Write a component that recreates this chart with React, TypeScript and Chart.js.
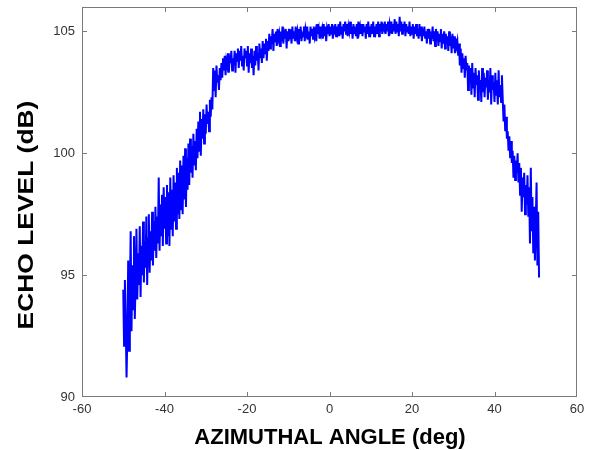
import { useEffect, useRef } from "react";
import { Chart, registerables } from "chart.js";

Chart.register(...registerables);

// Sampling grid of the measurement (deg)
const ANGLE_START = -50;
const ANGLE_STEP = 0.2;

// Echo level (dB), one value per sample
const echoLevel = [
  94.4, 92.1, 94.8, 93.0, 90.8, 92.6, 95.6, 91.9, 94.2, 96.8,
  92.7, 95.4, 93.6, 96.6, 93.2, 94.8, 96.9, 94.0, 95.9, 94.6,
  97.0, 94.1, 96.2, 95.0, 97.2, 94.7, 96.4, 95.3, 97.4, 94.6,
  96.5, 97.5, 95.1, 96.8, 95.6, 97.6, 95.4, 97.2, 96.0, 97.8,
  95.7, 97.4, 96.3, 99.0, 96.0, 97.9, 96.6, 98.3, 96.2, 98.6,
  96.9, 98.2, 96.3, 98.7, 96.6, 98.4, 96.2, 99.0, 96.9, 98.5,
  96.6, 99.1, 97.2, 98.8, 96.9, 99.4, 97.5, 99.2, 97.3, 99.7,
  97.7, 99.5, 97.5, 99.9, 98.1, 100.2, 97.8, 99.8, 98.5, 100.4,
  98.7, 100.6, 99.2, 100.3, 99.0, 100.8, 99.5, 100.5, 99.3, 101.0,
  99.8, 101.3, 100.1, 101.7, 99.9, 101.4, 100.6, 101.8, 100.4, 101.6,
  100.8, 102.0, 101.2, 101.7, 100.9, 102.2, 101.5, 102.3, 101.8, 103.5,
  102.6, 103.4, 102.3, 103.6, 102.9, 103.2, 102.6, 103.5, 103.0, 103.7,
  103.1, 103.9, 103.4, 104.0, 103.2, 103.8, 103.6, 104.1, 103.3, 104.0,
  103.7, 104.2, 103.4, 103.9, 103.6, 104.2, 103.3, 104.1, 103.8, 104.3,
  103.5, 104.2, 103.8, 104.4, 103.6, 104.0, 103.4, 104.3, 103.9, 104.2,
  103.6, 104.4, 103.3, 104.1, 103.7, 104.3, 103.5, 104.0, 103.2, 104.2,
  103.6, 104.4, 103.8, 104.1, 103.4, 104.5, 103.9, 104.3, 103.7, 104.6,
  103.9, 104.5, 104.1, 104.7, 103.8, 104.6, 104.2, 104.9, 104.3, 104.8,
  104.5, 105.1, 104.2, 104.9, 104.6, 105.0, 104.4, 105.1, 104.7, 104.9,
  104.4, 105.0, 104.6, 105.2, 104.5, 104.9, 104.7, 105.1, 104.3, 105.0,
  104.6, 105.1, 104.8, 104.9, 104.5, 105.2, 104.7, 105.0, 104.6, 105.2,
  104.8, 105.0, 104.5, 105.1, 104.7, 105.2, 104.6, 104.9, 104.8, 105.2,
  104.6, 105.1, 104.9, 105.2, 104.7, 105.0, 104.5, 105.2, 104.8, 105.1,
  104.7, 105.2, 104.8, 105.0, 104.6, 105.3, 104.9, 105.1, 104.7, 105.2,
  104.9, 105.1, 104.7, 105.3, 104.8, 105.2, 104.6, 105.1, 104.9, 105.3,
  104.8, 105.2, 104.9, 105.3, 104.7, 105.1, 105.0, 105.3, 104.8, 105.2,
  105.0, 105.3, 104.8, 105.4, 104.9, 105.2, 104.7, 105.3, 105.0, 105.4,
  104.9, 105.3, 104.8, 105.2, 105.0, 105.4, 104.9, 105.2, 104.7, 105.3,
  104.9, 105.2, 104.8, 105.3, 104.7, 105.4, 105.0, 105.2, 104.9, 105.3,
  104.8, 105.3, 105.0, 105.2, 104.7, 105.3, 104.9, 105.4, 104.8, 105.2,
  105.0, 105.3, 104.9, 105.4, 104.8, 105.2, 105.0, 105.3, 104.9, 105.4,
  104.8, 105.3, 105.0, 105.4, 104.9, 105.2, 105.1, 105.4, 104.9, 105.3,
  105.0, 105.4, 104.8, 105.3, 105.1, 105.4, 104.9, 105.3, 105.0, 105.5,
  104.9, 105.4, 105.0, 105.3, 104.8, 105.6, 105.0, 105.4, 104.9, 105.3,
  105.0, 105.4, 104.8, 105.3, 105.0, 105.2, 104.9, 105.4, 104.8, 105.2,
  104.9, 105.3, 104.7, 105.2, 104.9, 105.3, 104.8, 105.1, 104.7, 105.3,
  104.8, 105.2, 104.6, 105.1, 104.8, 105.2, 104.7, 105.0, 104.5, 105.1,
  104.7, 105.1, 104.5, 105.0, 104.7, 105.2, 104.6, 105.0, 104.4, 105.1,
  104.6, 105.0, 104.4, 104.9, 104.6, 105.1, 104.3, 104.9, 104.5, 105.0,
  104.3, 104.9, 104.5, 104.8, 104.2, 105.0, 104.4, 104.8, 104.1, 104.9,
  104.3, 104.8, 104.1, 104.7, 104.4, 104.6, 104.0, 104.5, 103.6, 104.3,
  103.3, 104.1, 103.5, 103.9, 103.1, 104.0, 103.4, 103.7, 102.6, 103.6,
  102.9, 103.5, 102.4, 103.7, 102.7, 103.3, 102.3, 103.5, 102.8, 103.2,
  102.2, 103.4, 102.6, 103.0, 102.1, 103.5, 102.5, 103.3, 102.3, 103.1,
  102.7, 103.4, 102.2, 103.0, 102.5, 103.5, 102.0, 103.2, 102.6, 102.9,
  102.1, 103.3, 102.4, 103.0, 102.0, 103.4, 102.3, 102.8, 102.1, 103.2,
  102.2, 101.3, 102.0, 100.9, 101.5, 100.6, 100.9, 100.1, 100.7, 99.8,
  100.5, 99.6, 100.1, 99.0, 99.9, 98.9, 99.7, 99.2, 100.0, 98.8,
  99.6, 98.3, 99.4, 97.6, 99.0, 98.2, 99.2, 97.5, 98.7, 97.9,
  99.1, 97.4, 98.6, 96.3, 99.4, 96.8, 98.2, 95.9, 97.8, 95.6,
  97.2, 98.8, 95.4, 97.6, 94.9,
];

const xTicks = [-60, -40, -20, 0, 20, 40, 60];
const yTicks = [90, 95, 100, 105];
const X_TITLE = "AZIMUTHAL ANGLE (deg)";
const Y_TITLE = "ECHO LEVEL (dB)";

const FONT = "'Liberation Sans', Arial, Helvetica, sans-serif";

const framePlugin = {
  id: "frame",
  afterDraw(chart: any) {
    const { ctx, chartArea: a, scales } = chart;
    const xs = scales.x;
    const ys = scales.y;
    ctx.save();
    ctx.strokeStyle = "#7a7a7a";
    ctx.lineWidth = 1;
    ctx.strokeRect(a.left + 0.5, a.top + 0.5, a.right - a.left - 1, a.bottom - a.top - 1);
    const tl = 5;
    ctx.beginPath();
    xTicks.forEach((v) => {
      if (v === xs.min || v === xs.max) return;
      const px = Math.round(xs.getPixelForValue(v)) + 0.5;
      ctx.moveTo(px, a.bottom);
      ctx.lineTo(px, a.bottom - tl);
      ctx.moveTo(px, a.top);
      ctx.lineTo(px, a.top + tl);
    });
    yTicks.forEach((v) => {
      if (v === ys.min || v === ys.max) return;
      const py = Math.round(ys.getPixelForValue(v)) + 0.5;
      ctx.moveTo(a.left, py);
      ctx.lineTo(a.left + tl, py);
      ctx.moveTo(a.right, py);
      ctx.lineTo(a.right - tl, py);
    });
    ctx.stroke();

    ctx.fillStyle = "#000";
    ctx.font = `bold 22px ${FONT}`;
    ctx.textAlign = "center";
    ctx.textBaseline = "middle";
    ctx.fillText(X_TITLE, 330, 438);
    ctx.translate(27, 215);
    ctx.rotate(-Math.PI / 2);
    ctx.scale(1.2, 1);
    ctx.fillText(Y_TITLE, 0, 0);
    ctx.restore();
  },
};

export default function App() {
  const ref = useRef<HTMLCanvasElement | null>(null);

  useEffect(() => {
    document.body.style.margin = "0";
    const canvas = ref.current;
    if (!canvas) return;
    const points = echoLevel.map((y, i) => ({ x: ANGLE_START + i * ANGLE_STEP, y }));
    const chart = new Chart(canvas, {
      type: "line",
      data: {
        datasets: [
          {
            data: points,
            borderColor: "#0000ff",
            borderWidth: 2,
            pointRadius: 0,
            tension: 0,
            fill: false,
          },
        ],
      },
      options: {
        animation: false,
        responsive: false,
        maintainAspectRatio: false,
        parsing: false as any,
        layout: { padding: { top: 7, right: 15, left: 0, bottom: 0 } },
        plugins: { legend: { display: false }, tooltip: { enabled: false }, title: { display: false } },
        scales: {
          x: {
            type: "linear",
            min: -60,
            max: 60,
            afterBuildTicks: (s: any) => {
              s.ticks = xTicks.map((v) => ({ value: v }));
            },
            afterFit: (s: any) => {
              s.height = 53;
              s.paddingLeft = 0;
              s.paddingRight = 0;
            },
            grid: { display: false, drawTicks: false },
            border: { display: false },
            ticks: {
              autoSkip: false,
              maxRotation: 0,
              padding: 5,
              color: "#333",
              font: { family: FONT, size: 13 },
            },
          },
          y: {
            type: "linear",
            min: 90,
            max: 106,
            afterBuildTicks: (s: any) => {
              s.ticks = yTicks.map((v) => ({ value: v }));
            },
            afterFit: (s: any) => {
              s.width = 82;
              s.paddingTop = 0;
              s.paddingBottom = 0;
            },
            grid: { display: false, drawTicks: false },
            border: { display: false },
            ticks: {
              autoSkip: false,
              padding: 7,
              color: "#333",
              font: { family: FONT, size: 13 },
            },
          },
        },
      },
      plugins: [framePlugin],
    });
    return () => chart.destroy();
  }, []);

  return (
    <div style={{ width: 592, height: 450, background: "#fff" }}>
      <canvas ref={ref} width={592} height={450} />
    </div>
  );
}
